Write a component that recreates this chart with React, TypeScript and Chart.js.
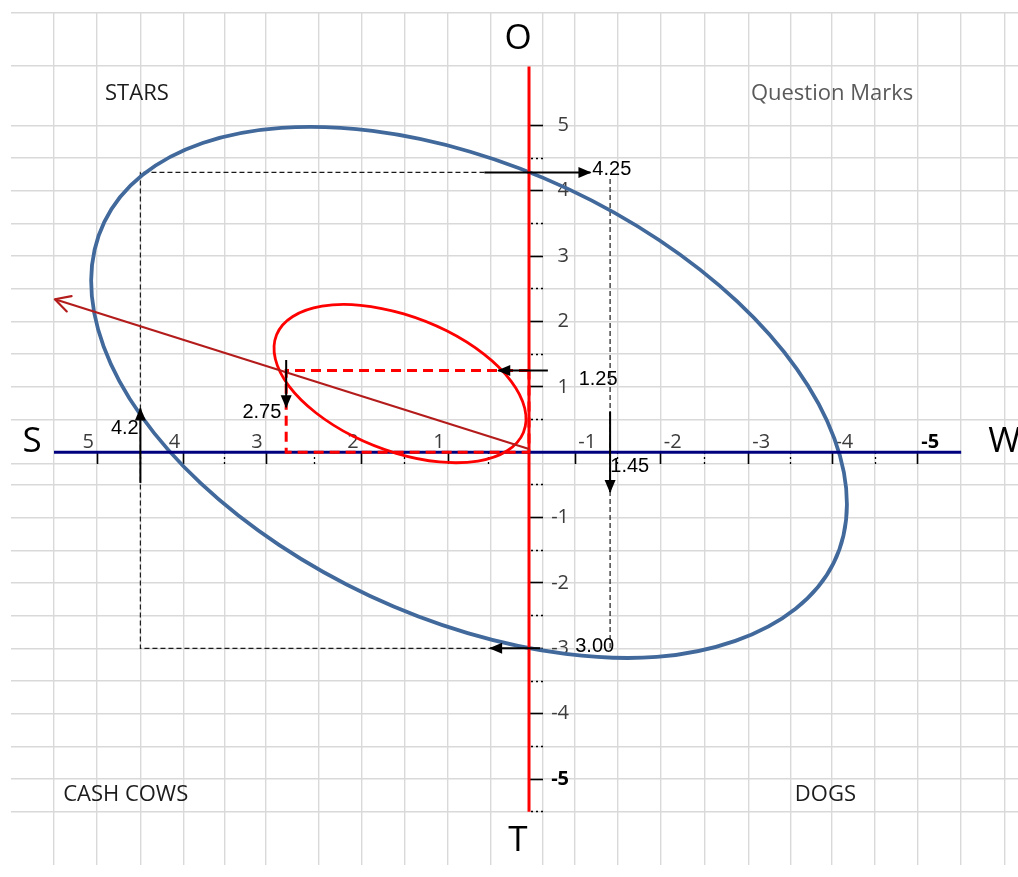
import React, { useEffect, useRef } from 'react';
import { Chart, registerables, LinearScale } from 'chart.js';

// ---------------- data ----------------
// axis ticks
const xTickMajor = [5, 4, 3, 2, 1, -1, -2, -3, -4, -5];
const xTickMinor = [4.5, 3.5, 2.5, 1.5, 0.5, -1.5, -2.5, -3.5, -4.5];
const yTickMajor = [5, 4, 3, 2, 1, -1, -2, -3, -4, -5];
const yTickMinor = [4.5, 3.5, 2.5, 1.5, 0.5, -0.5, -1.5, -2.5, -3.5, -4.5, -5.5];
const xLabelsS = [5, 4, 3, 2, 1];
const xLabelsW = [-1, -2, -3, -4, -5];

// the hand-drawn S–W axis is not evenly spaced: value -> axis units
const xKnots = [-5, -4, -3, -2, -1, 0, 1, 2, 3, 4, 5];
const uKnots = [-4.504, -3.509, -2.547, -1.523, -0.533, 0, 0.938, 1.934, 3.045, 4.0, 5.0];

// worksheet cell lines behind the diagram
const gridXLines = [5.5, 5, 4.5, 4, 3.5, 3, 2.45, 2, 1.5, 1, 0.47, -0.3, -1, -1.5, -2, -2.5, -3, -3.5, -4, -4.5, -5, -5.5, -6];
const gridYLines = [6.73, 5.91, 5, 4.5, 4, 3.5, 3, 2.5, 2, 1.5, 1, 0.5, -0.18, -0.5, -1, -1.5, -2, -2.5, -3, -3.5, -4, -4.5, -5, -5.5];

// blue ellipse (strategic space), traced around its outline
const blueEllipseX = [-4.019, -3.561, -2.846, -1.956, -0.795, 0.757, 1.907, 2.865, 3.79, 4.492, 4.925, 5.07, 4.917, 4.477, 3.768, 2.842, 1.879, 0.725, -0.847, -1.982, -2.866, -3.577, -4.026, -4.173];
const blueEllipseY = [-1.694, -2.395, -2.886, -3.132, -3.085, -2.767, -2.199, -1.417, -0.477, 0.558, 1.617, 2.629, 3.524, 4.24, 4.731, 4.962, 4.915, 4.597, 4.029, 3.247, 2.307, 1.272, 0.213, -0.799];

// red ellipse (current position), traced around its outline
const redEllipseX = [0.069, 0.269, 0.63, 1.099, 1.602, 2.091, 2.478, 2.761, 2.903, 2.89, 2.721, 2.417, 2.015, 1.514, 1.015, 0.557, 0.222, 0.053];
const redEllipseY = [0.302, 0.023, -0.135, -0.149, -0.017, 0.243, 0.6, 1.011, 1.426, 1.798, 2.077, 2.235, 2.248, 2.116, 1.857, 1.5, 1.089, 0.673];

// dashed guide boxes
const outerBoxX = [0.55, 4.5, 4.5, 0.48];
const outerBoxY = [4.28, 4.28, -3.0, -3.0];
const outerRightX = [-1.41, -1.41];
const outerRightY = [4.18, -3.0];
const innerBoxX = [0, 2.79, 2.79, 0, 0];
const innerBoxY = [1.25, 1.25, 0, 0, 1.25];

// strategy vector
const vectorX = [0, 5.49];
const vectorY = [0.05, 2.34];

// axis lines
const axisSWX = [5.5, -5.5];
const axisSWY = [0, 0];
const axisOTX = [0, 0];
const axisOTY = [5.9, -5.5];

// value arrows
const arrowFromX = [0.55, -0.24, 4.5, -1.41, -0.41, 2.79];
const arrowFromY = [4.28, -3.0, -0.47, 0.62, 1.25, 1.41];
const arrowToX = [-1.18, 0.48, 4.5, -1.41, 0.38, 2.79];
const arrowToY = [4.28, -3.0, 0.67, -0.61, 1.25, 0.69];

// value labels
const valueLabels = ['4.25', '3.00', '4.2', '1.45', '1.25', '2.75'];
const valueLabelX = [-1.43, -1.23, 4.68, -1.64, -1.27, 3.05];
const valueLabelY = [4.32, -2.97, 0.36, -0.225, 1.11, 0.615];

// quadrant names
const quadrantNames = ['STARS', 'Question Marks', 'CASH COWS', 'DOGS'];
const quadrantX = [4.54, -4.0, 4.67, -3.92];
const quadrantY = [5.49, 5.49, -5.235, -5.235];
const quadrantColors = ['#1c1c1c', '#5a5a5a', '#1c1c1c', '#1c1c1c'];

// axis letters
const axisLetters = ['O', 'T', 'S', 'W'];
const axisLetterX = [0.136, 0.136, 5.755, -6.0];
const axisLetterY = [6.315, -5.955, 0.15, 0.15];

// ---------------- scale ----------------
function interp(v: number, xs: number[], us: number[]) {
  const n = xs.length;
  if (v <= xs[0]) return us[0] + (v - xs[0]);
  if (v >= xs[n - 1]) return us[n - 1] + (v - xs[n - 1]);
  for (let i = 1; i < n; i++) {
    if (v <= xs[i]) {
      const t = (v - xs[i - 1]) / (xs[i] - xs[i - 1]);
      return us[i - 1] + t * (us[i] - us[i - 1]);
    }
  }
  return us[n - 1];
}
const warp = (v: number) => interp(v, xKnots, uKnots);
const unwarp = (u: number) => interp(u, uKnots, xKnots);

class WarpScale extends (LinearScale as any) {
  static id = 'warp';
  getPixelForValue(value: number) {
    if (value === null || value === undefined) return NaN;
    const a = warp(this.min), b = warp(this.max);
    return this.getPixelForDecimal((warp(value) - a) / (b - a));
  }
  getValueForPixel(pixel: number) {
    const a = warp(this.min), b = warp(this.max);
    return unwarp(a + this.getDecimalForPixel(pixel) * (b - a));
  }
}

Chart.register(...registerables, WarpScale as any);

const X_MIN = -6.158, X_MAX = 5.998, Y_MIN = -6.315, Y_MAX = 6.735;
const FONT = '"Open Sans", "Noto Sans", sans-serif';

const setTicks = (vals: number[]) => (scale: any) => {
  scale.ticks = vals.map((v) => ({ value: v }));
};

// closed outlines: let the line element treat its points as a loop (smooth join)
const loopPlugin = {
  id: 'closedLoops',
  beforeDatasetDraw(chart: any, args: any) {
    const ds = chart.data.datasets[args.index];
    const line = args.meta && args.meta.dataset;
    if (!ds || !ds.closedLoop || !line) return;
    line._loop = true;
    line._fullLoop = true;
    line._pointsUpdated = false;
    line._segments = undefined;
    line._path = undefined;
  },
};

const arrowPlugin = {
  id: 'arrowHeads',
  afterDatasetsDraw(chart: any) {
    const ctx = chart.ctx;
    chart.data.datasets.forEach((ds: any, i: number) => {
      if (!ds.arrowHead) return;
      const pts = chart.getDatasetMeta(i).data;
      const n = pts.length;
      if (n < 2) return;
      const p = pts[n - 1], q = pts[n - 2];
      const ang = Math.atan2(p.y - q.y, p.x - q.x);
      ctx.save();
      ctx.translate(p.x, p.y);
      ctx.rotate(ang);
      if (ds.arrowHead === 'open') {
        ctx.strokeStyle = ds.borderColor;
        ctx.lineWidth = ds.borderWidth;
        ctx.lineCap = 'round';
        ctx.lineJoin = 'round';
        ctx.beginPath();
        ctx.moveTo(-15, -8);
        ctx.lineTo(0, 0);
        ctx.lineTo(-15, 8);
        ctx.stroke();
      } else {
        ctx.fillStyle = ds.borderColor;
        ctx.beginPath();
        ctx.moveTo(1, 0);
        ctx.lineTo(-12, -5.5);
        ctx.lineTo(-12, 5.5);
        ctx.closePath();
        ctx.fill();
      }
      ctx.restore();
    });
  },
};

const textPlugin = {
  id: 'diagramText',
  afterDatasetsDraw(chart: any) {
    const { ctx } = chart;
    const sx = chart.scales.x, sy = chart.scales.y;
    const put = (t: string, x: number, y: number) => ctx.fillText(t, sx.getPixelForValue(x), sy.getPixelForValue(y));
    ctx.save();
    ctx.textAlign = 'center';
    ctx.textBaseline = 'middle';
    ctx.font = `20px "Liberation Sans", Arial, sans-serif`;
    ctx.fillStyle = '#000';
    valueLabels.forEach((t, i) => put(t, valueLabelX[i], valueLabelY[i]));
    ctx.font = `22px ${FONT}`;
    quadrantNames.forEach((t, i) => {
      ctx.fillStyle = quadrantColors[i];
      put(t, quadrantX[i], quadrantY[i]);
    });
    ctx.font = `35px ${FONT}`;
    ctx.fillStyle = '#000';
    axisLetters.forEach((t, i) => put(t, axisLetterX[i], axisLetterY[i]));
    ctx.restore();
  },
};

const pts = (xs: number[], ys: number[]) => xs.map((x, i) => ({ x, y: ys[i] }));

export default function App() {
  const ref = useRef<HTMLCanvasElement>(null);
  useEffect(() => {
    const base = { pointRadius: 0, pointHoverRadius: 0, pointHitRadius: 0, fill: false, tension: 0, borderCapStyle: 'butt', xAxisID: 'x', yAxisID: 'y' };
    const datasets: any[] = [
      { ...base, label: 'outer box', data: pts(outerBoxX, outerBoxY), borderColor: '#1a1a1a', borderWidth: 1.2, borderDash: [5, 3], order: 8 },
      { ...base, label: 'outer box right', data: pts(outerRightX, outerRightY), borderColor: '#1a1a1a', borderWidth: 1.2, borderDash: [5, 3], order: 8 },
      { ...base, label: 'strategic space', data: pts(blueEllipseX, blueEllipseY), closedLoop: true, borderColor: '#42699b', borderWidth: 3.8, tension: 0.34, borderJoinStyle: 'round', order: 7 },
      { ...base, label: 'S-W axis', data: pts(axisSWX, axisSWY), borderColor: '#00007f', borderWidth: 3, order: 6 },
      { ...base, label: 'O-T axis', data: pts(axisOTX, axisOTY), borderColor: '#ff0000', borderWidth: 3, order: 6 },
      { ...base, label: 'current position', data: pts(redEllipseX, redEllipseY), closedLoop: true, borderColor: '#ff0000', borderWidth: 2.8, tension: 0.34, borderJoinStyle: 'round', order: 5 },
      { ...base, label: 'inner box', data: pts(innerBoxX, innerBoxY), borderColor: '#ff0000', borderWidth: 3, borderDash: [10, 6], order: 4 },
      { ...base, label: 'vector', data: pts(vectorX, vectorY), borderColor: '#b41c1c', borderWidth: 2.2, arrowHead: 'open', order: 3 },
      ...arrowFromX.map((fx, i) => ({
        ...base,
        label: 'arrow ' + i,
        data: [{ x: fx, y: arrowFromY[i] }, { x: arrowToX[i], y: arrowToY[i] }],
        borderColor: '#000',
        borderWidth: 2,
        arrowHead: 'filled',
        order: 1,
      })),
    ];

    const tickFont = (ctx: any) => ({ family: FONT, size: 20, weight: ctx.tick && ctx.tick.value === -5 ? 'bold' : 'normal' });
    const tickColor = (ctx: any) => (ctx.tick && ctx.tick.value === -5 ? '#000' : '#3c3c3c');
    const hidden = { display: false };

    const chart = new Chart(ref.current as HTMLCanvasElement, {
      type: 'line',
      data: { datasets },
      plugins: [loopPlugin, arrowPlugin, textPlugin],
      options: {
        responsive: false,
        animation: false,
        devicePixelRatio: 1,
        events: [],
        layout: { padding: { left: 11, top: 7, right: 0, bottom: 0 }, autoPadding: false },
        plugins: { legend: { display: false }, tooltip: { enabled: false }, title: { display: false } },
        scales: {
          xGrid: {
            type: 'warp', axis: 'x', position: 'bottom', reverse: true, min: X_MIN, max: X_MAX,
            afterBuildTicks: setTicks(gridXLines),
            ticks: { display: false },
            grid: { color: '#d9d9d9', lineWidth: 1.4, drawTicks: false },
            border: hidden,
          },
          yGrid: {
            type: 'linear', axis: 'y', position: 'left', min: Y_MIN, max: Y_MAX,
            afterBuildTicks: setTicks(gridYLines),
            ticks: { display: false },
            grid: { color: '#d9d9d9', lineWidth: 1.4, drawTicks: false },
            border: hidden,
          },
          x: {
            type: 'warp', position: { y: 0 }, reverse: true, min: X_MIN, max: X_MAX,
            afterBuildTicks: setTicks([...xTickMajor, ...xTickMinor]),
            ticks: { display: false },
            grid: {
              drawOnChartArea: false, drawTicks: true, tickLength: 12, tickColor: '#000',
              tickWidth: (c: any) => (Number.isInteger(c.tick.value) ? 1.6 : 1.3),
              tickBorderDash: (c: any) => (Number.isInteger(c.tick.value) ? [] : [2, 3]),
            },
            border: hidden,
          },
          y: {
            type: 'linear', position: { x: -0.304 }, min: Y_MIN, max: Y_MAX,
            afterBuildTicks: setTicks([...yTickMajor, ...yTickMinor]),
            ticks: { display: false },
            grid: {
              drawOnChartArea: false, drawTicks: true, tickLength: 14, tickColor: '#000',
              tickWidth: (c: any) => (Number.isInteger(c.tick.value) ? 1.6 : 1.3),
              tickBorderDash: (c: any) => (Number.isInteger(c.tick.value) ? [] : [2, 3]),
            },
            border: hidden,
          },
          xLabS: {
            type: 'warp', axis: 'x', position: { y: 0.33 }, reverse: true, min: X_MIN, max: X_MAX,
            afterBuildTicks: setTicks(xLabelsS),
            ticks: { align: 'end', padding: 0, autoSkip: false, maxRotation: 0, callback: (v: any) => `${v}\u2009`, font: tickFont, color: tickColor },
            grid: { display: false, drawTicks: false },
            border: hidden,
          },
          xLabW: {
            type: 'warp', axis: 'x', position: { y: 0.33 }, reverse: true, min: X_MIN, max: X_MAX,
            afterBuildTicks: setTicks(xLabelsW),
            ticks: { align: 'start', padding: 0, autoSkip: false, maxRotation: 0, callback: (v: any) => `\u2009${v}`, font: tickFont, color: tickColor },
            grid: { display: false, drawTicks: false },
            border: hidden,
          },
          yLab: {
            type: 'linear', axis: 'y', position: { x: -0.87 }, min: Y_MIN, max: Y_MAX,
            afterBuildTicks: setTicks(yTickMajor),
            ticks: { padding: 0, autoSkip: false, font: tickFont, color: tickColor },
            grid: { display: false, drawTicks: false },
            border: hidden,
          },
        },
      } as any,
    } as any);
    return () => chart.destroy();
  }, []);

  return (
    <div style={{ position: 'fixed', left: 0, top: 0, width: 1018, height: 877, background: '#fff' }}>
      <canvas ref={ref} width={1018} height={877} style={{ display: 'block' }} />
    </div>
  );
}
